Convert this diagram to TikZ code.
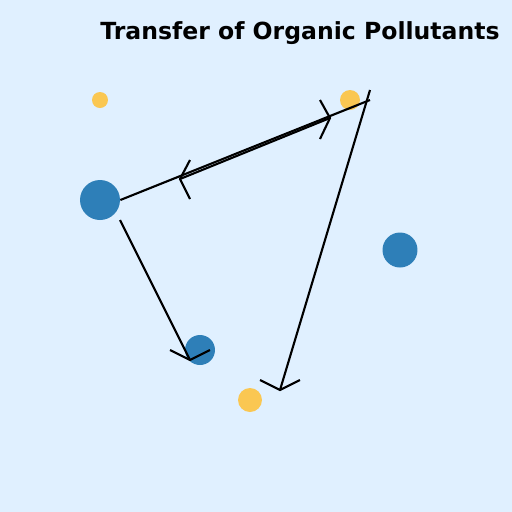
\documentclass[tikz,border=0pt]{standalone}
\usepackage{fontspec}
\setmainfont{DejaVu Sans}
\definecolor{bgsky}{HTML}{E0F0FF}
\definecolor{pblue}{HTML}{2E7FB8}
\definecolor{porange}{HTML}{FAC752}
\tikzset{
	blob/.style={circle,inner sep=0pt,minimum size=#1},
	flow/.style={black,line width=1.2pt}
}
\begin{document}
\begin{tikzpicture}[x=0.02cm,y=-0.02cm]
	
	% background
	\fill[bgsky] (0,0) rectangle (512,512);
	\useasboundingbox (0,0) rectangle (512,512);
	\node[font=\bfseries\fontsize{13.4}{15}\selectfont] (title) at (300,33.5) {Transfer of Organic Pollutants};

	% pollutants
	\node[blob=0.32cm,fill=porange] (o1) at (100,100) {};
	\node[blob=0.40cm,fill=porange] (o2) at (350,100) {};
	\node[blob=0.48cm,fill=porange] (o3) at (250,400) {};
	\node[blob=0.80cm,fill=pblue] (b1) at (100,200) {};
	\node[blob=0.70cm,fill=pblue] (b2) at (400,250) {};
	\node[blob=0.60cm,fill=pblue] (b3) at (200,350) {};

	% transfer paths
	\coordinate (top) at (370,100);
	\coordinate (topc) at (370,90);
	\coordinate (s1) at (120,220);
	\coordinate (t1) at (190,360);
	\coordinate (t2) at (280,390);
	\coordinate (a1) at (180,179);
	\coordinate (a2) at (330,118);
	\draw[flow] (b1.east) -- (top);
	\draw[flow] (a1) -- (a2);
	\draw[flow] (s1) -- (t1);
	\draw[flow] (topc) -- (t2);

	% heads
	\draw[flow] (190,160) -- (a1) -- (190,199);
	\draw[flow] (320,100) -- (a2) -- (320,139);
	\draw[flow] (170,350) -- (t1) -- (210,350);
	\draw[flow] (260,380) -- (t2) -- (300,380);

\end{tikzpicture}
\end{document}
